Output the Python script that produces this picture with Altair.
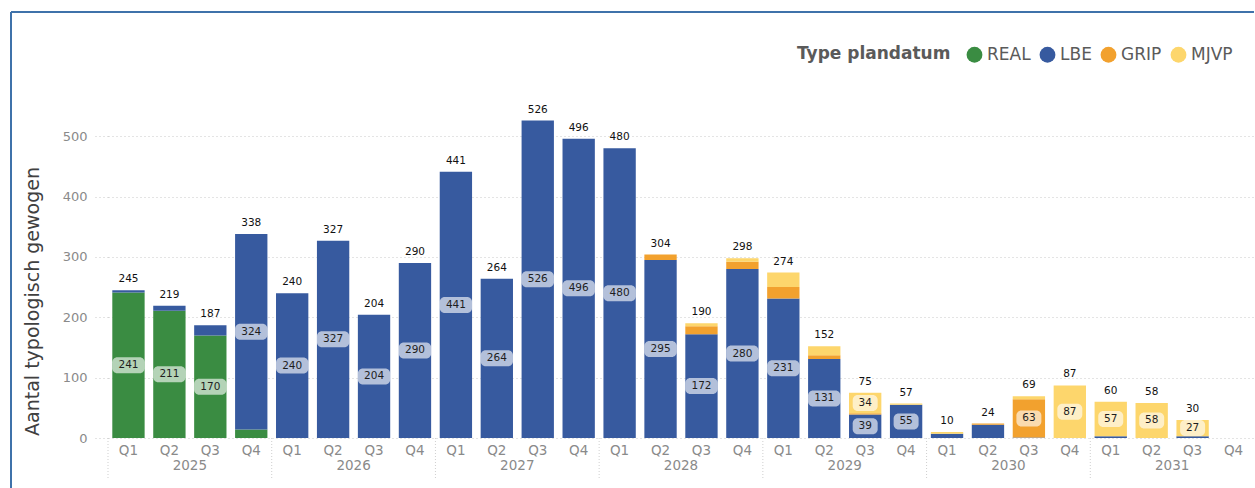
import altair as alt
import pandas as pd

FONT = "DejaVu Sans"
PLOT_W, PLOT_H = 1146, 338
Y_MAX = 560

# Quarterly counts per planning-date type, 2025 Q1 .. 2031 Q4
years = [2025, 2026, 2027, 2028, 2029, 2030, 2031]
quarters = ["Q1", "Q2", "Q3", "Q4"]

real = [241, 211, 170, 14] + [0] * 24
lbe = [4, 8, 17, 324,
       240, 327, 204, 290,
       441, 264, 526, 496,
       480, 295, 172, 280,
       231, 131, 39, 55,
       7, 22, 1, 0,
       3, 0, 3, 0]
grip = [0] * 12 + [0, 9, 13, 12,
                   19, 6, 2, 0,
                   0, 2, 63, 0,
                   0, 0, 0, 0]
mjvp = [0] * 12 + [0, 0, 5, 6,
                   24, 15, 34, 2,
                   3, 0, 5, 87,
                   57, 58, 27, 0]

types = ["REAL", "LBE", "GRIP", "MJVP"]
colors = ["#3a8c42", "#375a9f", "#f2a12e", "#fdd66c"]
series = {"REAL": real, "LBE": lbe, "GRIP": grip, "MJVP": mjvp}

periods = [f"{y}-{q}" for y in years for q in quarters]

# half height of a value-label pill (16 px), expressed in axis units
PILL_HALF = 8 * Y_MAX / PLOT_H

rows, totals = [], []
for i, p in enumerate(periods):
    base = 0
    for k, t in enumerate(types):
        v = series[t][i]
        if v > 0:
            mid = base + v / 2
            rows.append({"period": p, "type": t, "idx": k, "value": v,
                         "bottom": base, "top": base + v, "mid": mid,
                         "pill_lo": mid - PILL_HALF, "pill_hi": mid + PILL_HALF,
                         "digits": len(str(v))})
        base += v
    if base > 0:
        totals.append({"period": p, "total": base})

seg = pd.DataFrame(rows)
tot = pd.DataFrame(totals)
yr = pd.DataFrame({"period": [f"{y}-Q2" for y in years], "year": [str(y) for y in years]})
sep = pd.DataFrame({"period": [f"{y}-Q1" for y in years]})
frame = pd.DataFrame({"k": [0]})

x_scale = alt.Scale(domain=periods, range=[0, PLOT_W], paddingInner=0, paddingOuter=0)
x_enc = alt.X("period:N", sort=periods, scale=x_scale,
              axis=alt.Axis(title=None, labelExpr="split(datum.value, '-')[1]",
                            labelAngle=0, labelFontSize=13.5, labelColor="#8a8a8a",
                            labelFont=FONT, labelPadding=12, labelAlign="center",
                            bandPosition=0.5, domain=False, ticks=False, grid=False))
y_scale = alt.Scale(domain=[0, Y_MAX], nice=False)
x_plain = alt.X("period:N", sort=periods)

bars = alt.Chart(seg).mark_bar(width={"band": 0.79}).encode(
    x=x_enc,
    y=alt.Y("bottom:Q", scale=y_scale,
            axis=alt.Axis(values=[0, 100, 200, 300, 400, 500],
                          title="Aantal typologisch gewogen", titleFont=FONT,
                          titleFontSize=19, titleFontWeight="normal", titleColor="#404040",
                          titleX=-76, titleY=201, titleAlign="center", titleBaseline="middle",
                          labelFont=FONT, labelFontSize=13, labelColor="#8a8a8a",
                          labelPadding=8, tickSize=13, tickColor="#c8c8c8", tickDash=[1, 3],
                          gridColor="#c8c8c8", gridDash=[1, 3], domain=False)),
    y2="top:Q",
    order=alt.Order("idx:Q", sort="ascending"),
    color=alt.Color("type:N", scale=alt.Scale(domain=types, range=colors),
                    legend=alt.Legend(title="Type plandatum", orient="none",
                                      legendX=689, legendY=-54, direction="horizontal",
                                      titleOrient="left", titleFont=FONT, titleFontSize=17,
                                      titleFontWeight="bold", titleColor="#5a5a5a",
                                      titlePadding=15, labelFont=FONT, labelFontSize=17,
                                      labelColor="#5a5a5a", labelOffset=4, columnPadding=8,
                                      symbolType="circle", symbolSize=250,
                                      symbolStrokeWidth=0, symbolOpacity=1)),
)

lab = seg[seg["value"] >= 25]
pill_style = dict(color="white", opacity=0.62, cornerRadius=5)
pills3 = alt.Chart(lab[lab["digits"] == 3]).mark_bar(width={"band": 0.79}, **pill_style).encode(
    x=x_plain, y=alt.Y("pill_lo:Q", scale=y_scale), y2="pill_hi:Q")
pills2 = alt.Chart(lab[lab["digits"] == 2]).mark_bar(width={"band": 0.61}, **pill_style).encode(
    x=x_plain, y=alt.Y("pill_lo:Q", scale=y_scale), y2="pill_hi:Q")

seg_text = alt.Chart(lab).mark_text(font=FONT, fontSize=10.5, color="#1e1e1e",
                                    baseline="middle").encode(
    x=x_plain,
    y=alt.Y("mid:Q", scale=y_scale),
    text="value:Q",
)
tot_text = alt.Chart(tot).mark_text(font=FONT, fontSize=10.5, color="#111",
                                    baseline="middle", dy=-11).encode(
    x=x_plain,
    y=alt.Y("total:Q", scale=y_scale),
    text="total:Q",
)
year_text = alt.Chart(yr).mark_text(font=FONT, fontSize=13.5, color="#8a8a8a",
                                    baseline="middle").encode(
    x=alt.X("period:N", sort=periods, bandPosition=1),
    y=alt.value(PLOT_H + 28),
    text="year:N",
)
separators = alt.Chart(sep).mark_rule(color="#cfcfcf", strokeDash=[1, 2]).encode(
    x=alt.X("period:N", sort=periods, bandPosition=0),
    y=alt.value(PLOT_H),
    y2=alt.value(PLOT_H + 42),
)
frame_top = alt.Chart(frame).mark_rule(color="#3f72aa", strokeWidth=2).encode(
    x=alt.value(-97), x2=alt.value(1160), y=alt.value(-88))
frame_left = alt.Chart(frame).mark_rule(color="#3f72aa", strokeWidth=2).encode(
    x=alt.value(-97), y=alt.value(-88), y2=alt.value(400))

chart = alt.layer(
    separators, bars, pills3, pills2, seg_text, tot_text, year_text, frame_top, frame_left
).properties(
    width=PLOT_W, height=PLOT_H,
    autosize=alt.AutoSizeParams(type="none"),
    padding={"left": 108, "top": 100, "right": 0, "bottom": 50},
).configure(background="white").configure_view(stroke=None)

chart.save("out.html", embed_options={"renderer": "svg", "actions": False})
